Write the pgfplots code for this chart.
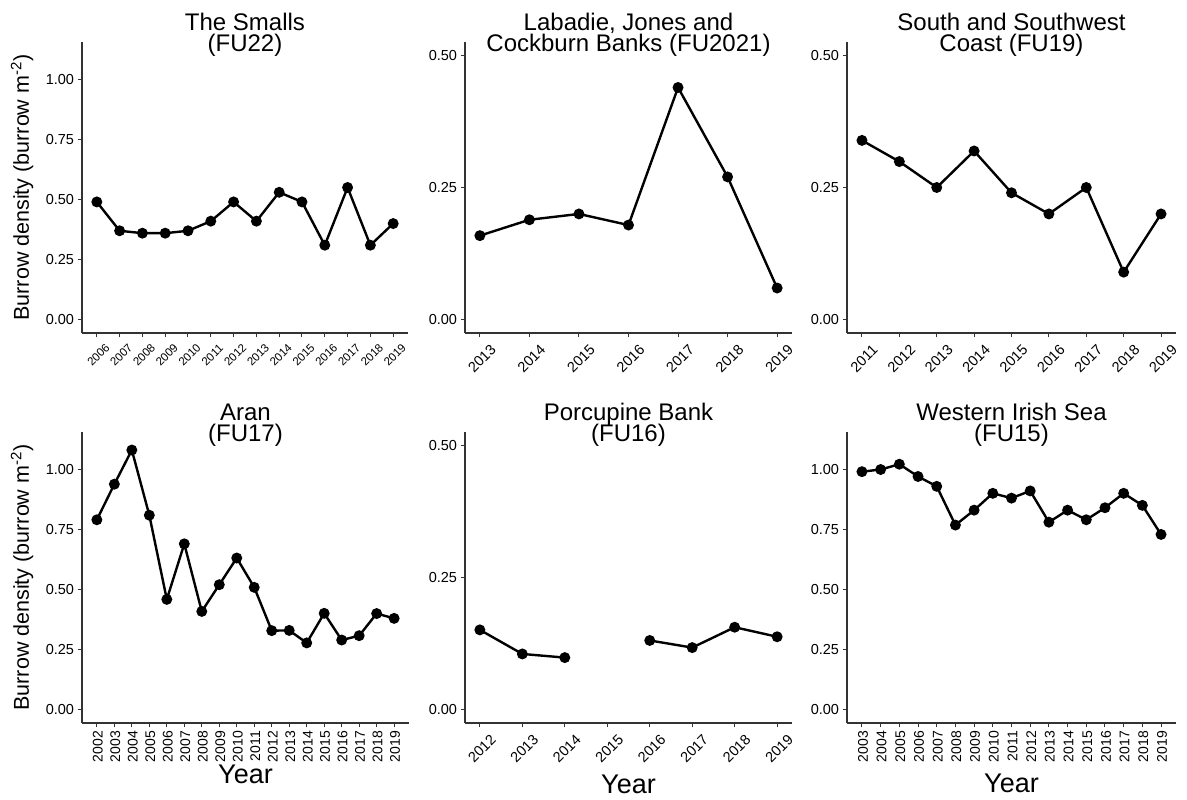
\documentclass[border=0pt]{standalone}
\usepackage{pgfplots}
\pgfplotsset{compat=1.18}
\usepackage{fontspec}
\setmainfont{Liberation Sans}
\definecolor{axgray}{HTML}{333333}

\pgfplotsset{
  panel/.style={
    scale only axis, height=291pt, anchor=south west,
    axis lines*=left,
    axis line style={line width=1.1pt, axgray},
    tick align=outside, major tick length=4.5pt,
    tick style={line width=1pt, axgray},
    enlarge x limits=0.05,
    clip=false,
    /pgf/number format/assume math mode=true,
    tick label style={font=\fontsize{14.5}{16}\selectfont, black},
    x tick label style={/pgf/number format/1000 sep={}},
    y tick label style={/pgf/number format/.cd, fixed, fixed zerofill, precision=2},
    unbounded coords=jump,
    every axis plot post/.append style={black, line width=2.4pt, mark=*, mark size=4.2pt, mark options={solid, fill=black}},
  },
  big/.style={ymin=-0.055, ymax=1.155, ytick={0,0.25,0.5,0.75,1}},
  small/.style={ymin=-0.025, ymax=0.525, ytick={0,0.25,0.5}},
  diag/.style={x tick label style={rotate=45, anchor=center, xshift=-13.4pt, yshift=-16.3pt}},
  vert/.style={x tick label style={rotate=90, anchor=east, yshift=-1pt}},
  dens/.style={ylabel={Burrow density (burrow m\textsuperscript{-2})},
    ylabel style={at={(axis description cs:-0.1626,0.5)}, anchor=base, font=\fontsize{21.5}{24}\selectfont}},
}
\newcommand{\ptitle}[2]{%
  \node[anchor=base, font=\fontsize{24}{26}\selectfont] at (rel axis cs:0.5,1) [yshift=11pt] {#1};
  \node[anchor=base, font=\fontsize{24}{26}\selectfont] at (rel axis cs:0.5,1) [yshift=-10pt] {#2};}
\newcommand{\yearlabel}[1]{%
  \node[anchor=base, font=\fontsize{27}{30}\selectfont] at (rel axis cs:0.5,0) [yshift=-#1] {Year};}

\begin{document}
\begin{tikzpicture}
\path[use as bounding box] (0,0) rectangle (1187pt,800pt);

% The Smalls (FU22)
\begin{axis}[panel, big, dens, at={(82pt,467pt)}, width=326pt,
  xtick={2006,...,2019},
  x tick label style={font=\fontsize{11.5}{12}\selectfont, rotate=45, anchor=center, xshift=-11.3pt, yshift=-13.6pt}]
\addplot coordinates {(2006,0.49) (2007,0.37) (2008,0.36) (2009,0.36) (2010,0.37) (2011,0.41) (2012,0.49)
  (2013,0.41) (2014,0.53) (2015,0.49) (2016,0.31) (2017,0.55) (2018,0.31) (2019,0.40)};
\ptitle{The Smalls}{(FU22)}
\end{axis}

% Labadie, Jones and Cockburn Banks (FU2021)
\begin{axis}[panel, small, at={(465pt,467pt)}, width=327pt, diag, xtick={2013,...,2019}]
\addplot coordinates {(2013,0.159) (2014,0.189) (2015,0.20) (2016,0.179) (2017,0.439) (2018,0.27) (2019,0.06)};
\ptitle{Labadie, Jones and}{Cockburn Banks (FU2021)}
\end{axis}

% South and Southwest Coast (FU19)
\begin{axis}[panel, small, at={(847pt,467pt)}, width=329pt, diag, xtick={2011,...,2019}]
\addplot coordinates {(2011,0.339) (2012,0.299) (2013,0.25) (2014,0.319) (2015,0.24) (2016,0.20) (2017,0.25) (2018,0.09) (2019,0.20)};
\ptitle{South and Southwest}{Coast (FU19)}
\end{axis}

% Aran (FU17)
\begin{axis}[panel, big, dens, at={(82pt,77pt)}, width=327pt, vert, xtick={2002,...,2019},
  x tick label style={font=\fontsize{14}{16}\selectfont}]
\addplot coordinates {(2002,0.79) (2003,0.938) (2004,1.08) (2005,0.809) (2006,0.459) (2007,0.69) (2008,0.409)
  (2009,0.52) (2010,0.631) (2011,0.509) (2012,0.329) (2013,0.33) (2014,0.278) (2015,0.401) (2016,0.29)
  (2017,0.308) (2018,0.40) (2019,0.38)};
\ptitle{Aran}{(FU17)}
\yearlabel{61pt}
\end{axis}

% Porcupine Bank (FU16)
\begin{axis}[panel, small, at={(465pt,77pt)}, width=327pt, diag, xtick={2012,...,2019}]
\addplot coordinates {(2012,0.151) (2013,0.1055) (2014,0.0986) (2015,nan) (2016,0.131) (2017,0.1175) (2018,0.156) (2019,0.138)};
\ptitle{Porcupine Bank}{(FU16)}
\yearlabel{71pt}
\end{axis}

% Western Irish Sea (FU15)
\begin{axis}[panel, big, at={(847pt,77pt)}, width=329pt, vert, xtick={2003,...,2019},
  x tick label style={font=\fontsize{14}{16}\selectfont}]
\addplot coordinates {(2003,0.99) (2004,0.999) (2005,1.021) (2006,0.97) (2007,0.929) (2008,0.768) (2009,0.83)
  (2010,0.90) (2011,0.88) (2012,0.91) (2013,0.78) (2014,0.83) (2015,0.79) (2016,0.84) (2017,0.90)
  (2018,0.85) (2019,0.729)};
\ptitle{Western Irish Sea}{(FU15)}
\yearlabel{70pt}
\end{axis}
\end{tikzpicture}
\end{document}
